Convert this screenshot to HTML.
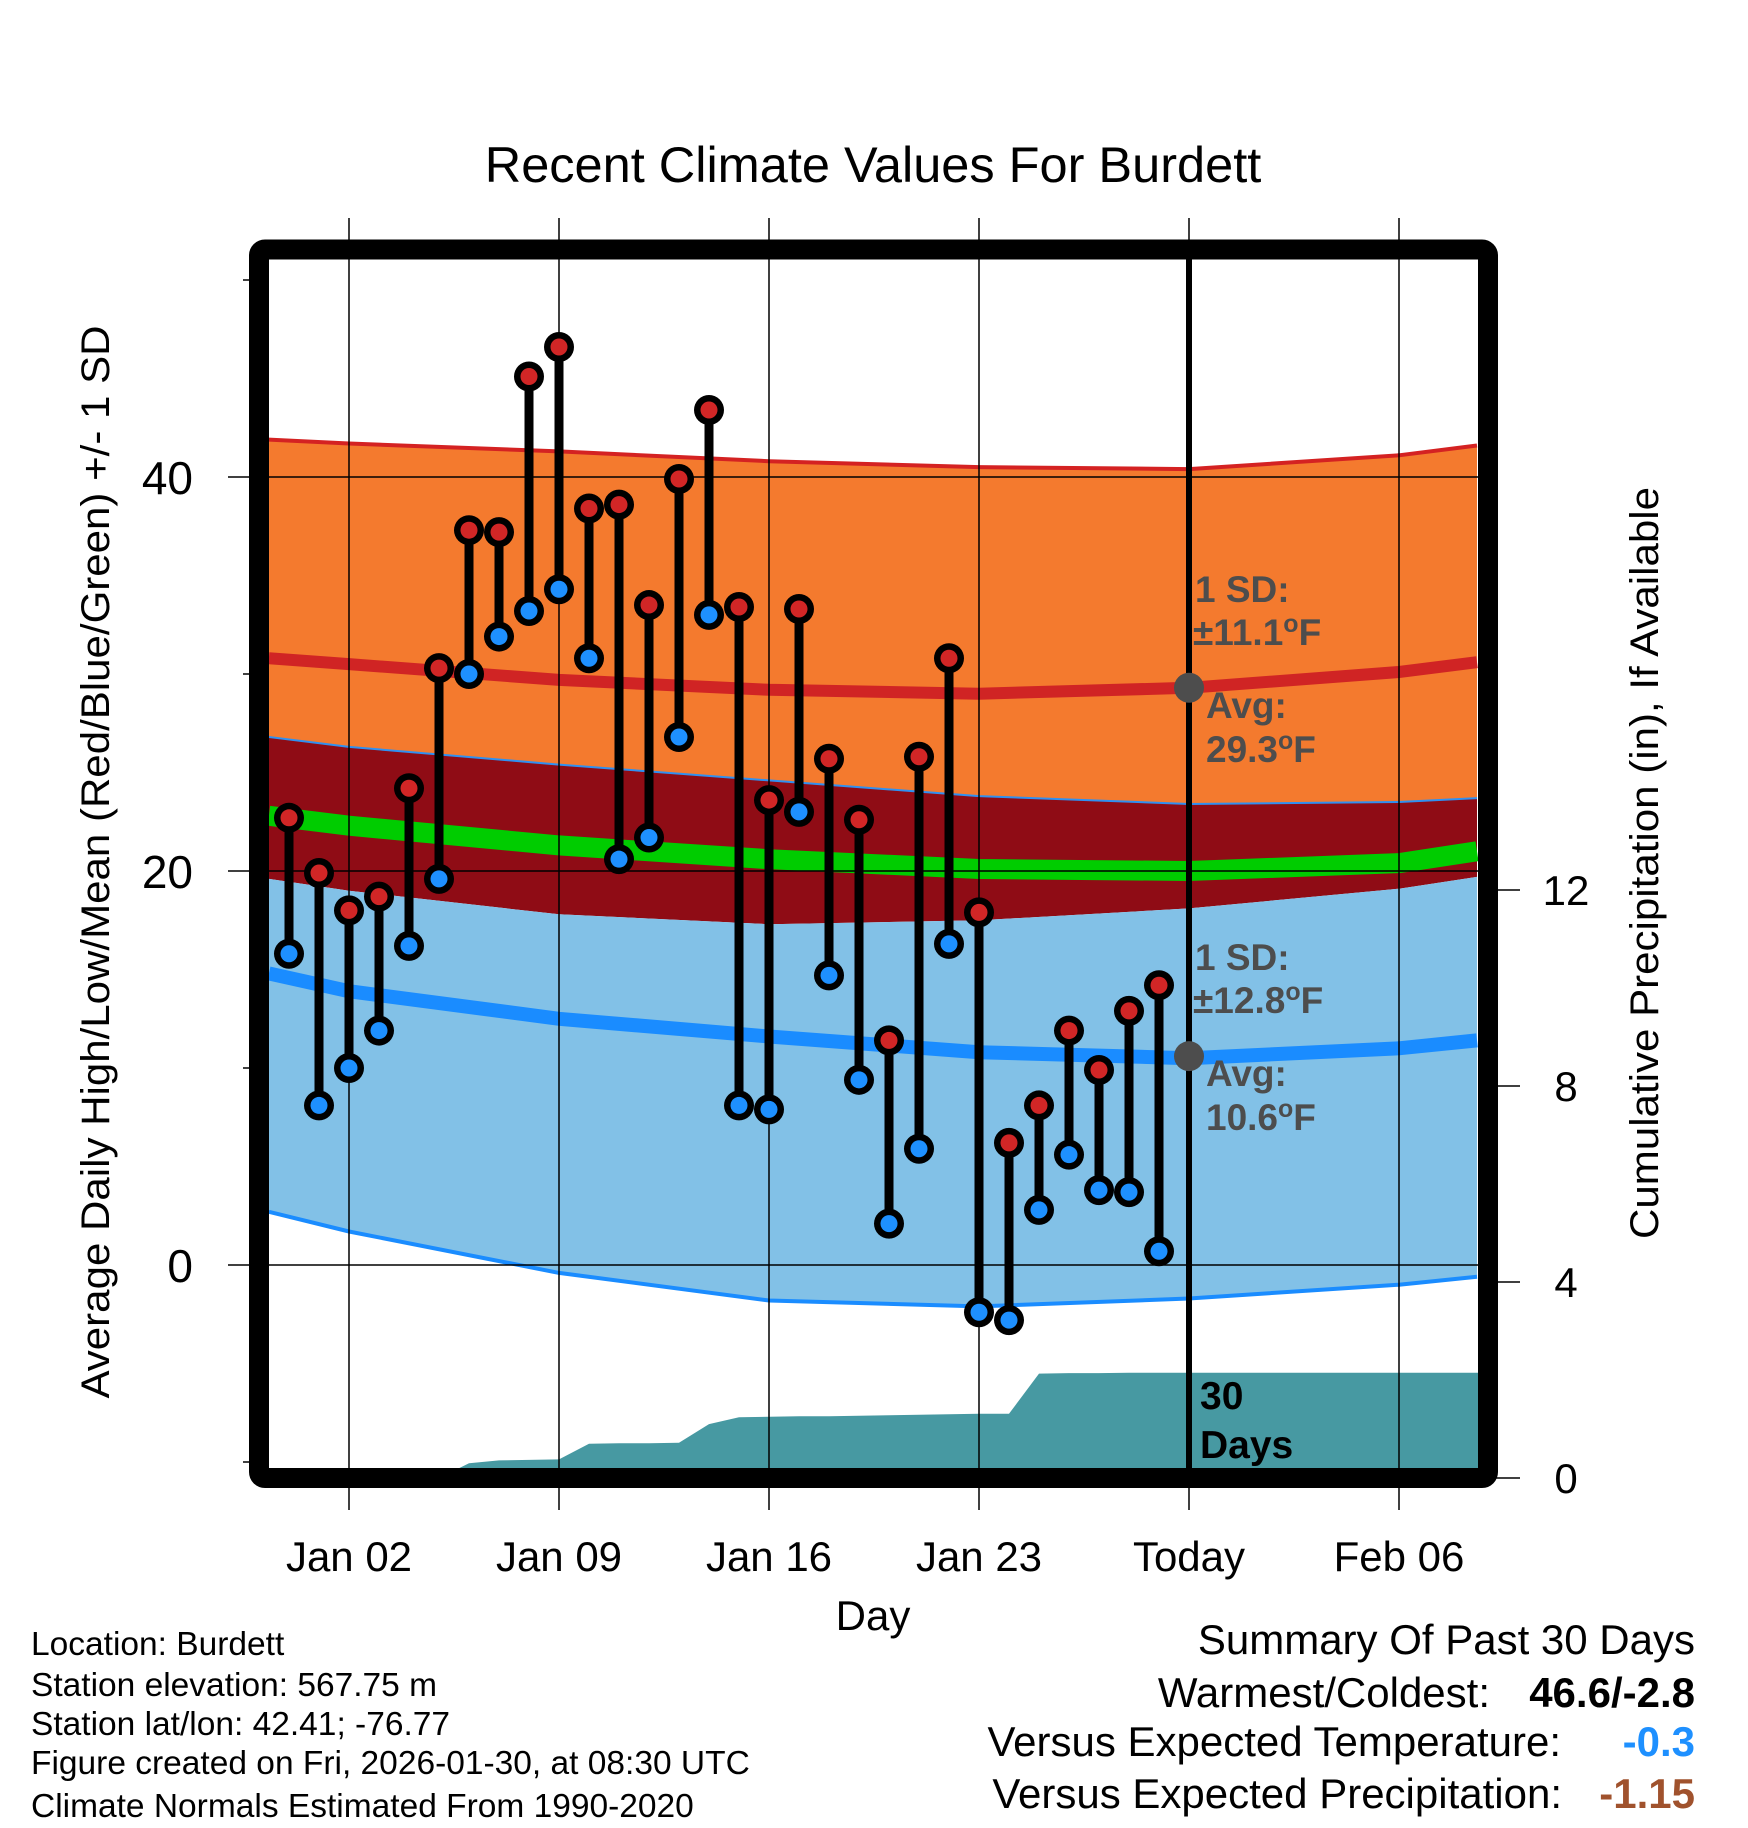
<!DOCTYPE html>
<html><head><meta charset="utf-8"><style>
html,body{margin:0;padding:0;background:#fff;}
svg{display:block;font-family:"Liberation Sans",Arial,sans-serif;}
</style></head><body>
<svg id="chart" width="1748" height="1828" viewBox="0 0 1748 1828" xmlns="http://www.w3.org/2000/svg">
<defs><clipPath id="plotclip"><rect x="269" y="260" width="1209" height="1208"/></clipPath></defs>
<text x="873" y="182" font-size="50.5" text-anchor="middle">Recent Climate Values For Burdett</text>
<g id="plot" clip-path="url(#plotclip)"></g>
<g id="over"></g>
</svg>
<script>
// ---- data ----
const normDays = [-2.67, 0, 7, 14, 21, 28, 35, 37.6];
const highPlusSD = [41.9, 41.7, 41.3, 40.8, 40.5, 40.4, 41.1, 41.6];
const highNormal = [30.8, 30.5, 29.7, 29.2, 29.0, 29.3, 30.1, 30.6];
const meanPlusSD = [26.8, 26.3, 25.4, 24.6, 23.8, 23.4, 23.5, 23.7];
const meanNormal = [22.8, 22.3, 21.3, 20.6, 20.1, 20.0, 20.4, 21.0];
const meanMinusSD = [19.6, 19.0, 17.8, 17.3, 17.5, 18.1, 19.1, 19.7];
const lowNormal = [14.8, 13.9, 12.5, 11.6, 10.8, 10.5, 11.0, 11.4];
const lowMinusSD = [2.7, 1.7, -0.4, -1.8, -2.1, -1.7, -1.0, -0.6];
const obsDays = [-2,-1,0,1,2,3,4,5,6,7,8,9,10,11,12,13,14,15,16,17,18,19,20,21,22,23,24,25,26,27];
const highs = [22.7,19.9,18.0,18.7,24.2,30.3,37.3,37.2,45.1,46.6,38.4,38.6,33.5,39.9,43.4,33.4,23.6,33.3,25.7,22.6,11.4,25.8,30.8,17.9,6.2,8.1,11.9,9.9,12.9,14.2];
const lows = [15.8,8.1,10.0,11.9,16.2,19.6,30.0,31.9,33.2,34.3,30.8,20.6,21.7,26.8,33.0,8.1,7.9,23.0,14.7,9.4,2.1,5.9,16.3,-2.4,-2.8,2.8,5.6,3.8,3.7,0.7];
const precip = [0,0,0,0,0,0,0.30,0.36,0.37,0.38,0.70,0.71,0.71,0.72,1.10,1.24,1.25,1.26,1.26,1.27,1.28,1.29,1.30,1.31,1.31,2.13,2.14,2.14,2.15,2.15];
const xTickDays = [0, 7, 14, 21, 28, 35];
const xTickLabels = ["Jan 02", "Jan 09", "Jan 16", "Jan 23", "Today", "Feb 06"];
const yTicks = [0, 20, 40];
const yMinor = [-10, 10, 30, 50];
const pTicks = [0, 4, 8, 12];
const todayHigh = 29.3, todayLow = 10.6;

// ---- axes ----
const X = d => 349 + 30 * d;
const Y = v => 1265 - 19.7 * v;
const P = p => 1478 - 49 * p;
const NS = "http://www.w3.org/2000/svg";
const plot = document.getElementById('plot');
const over = document.getElementById('over');
function mk(tag, attrs, parent) {
  const e = document.createElementNS(NS, tag);
  for (const k in attrs) e.setAttribute(k, attrs[k]);
  parent.appendChild(e);
  return e;
}
function line(arr) { return arr.map((v, i) => X(normDays[i]).toFixed(1) + ',' + Y(v).toFixed(1)); }
function band(top, bot) { return 'M' + line(top).join(' L') + ' L' + line(bot).reverse().join(' L') + ' Z'; }

let e;
e = mk('path', {d: band(highPlusSD, meanPlusSD), fill: '#F47A2E'}, plot);
 
e = mk('path', {d: band(meanPlusSD, meanMinusSD), fill: '#8F0C15'}, plot);
 
e = mk('path', {d: band(meanMinusSD, lowMinusSD), fill: '#82C1E7'}, plot);
 
e = mk('polyline', {points: line(highPlusSD).join(' '), fill: 'none', stroke: '#D42222', 'stroke-width': 4}, plot);
 
e = mk('polyline', {points: line(meanPlusSD).join(' '), fill: 'none', stroke: '#3090F0', 'stroke-width': 2}, plot);
 
e = mk('polyline', {points: line(lowMinusSD).join(' '), fill: 'none', stroke: '#1A8CFF', 'stroke-width': 4}, plot);
 
e = mk('polyline', {points: line(highNormal).join(' '), fill: 'none', stroke: '#D02424', 'stroke-width': 12}, plot);
 
e = mk('polyline', {points: line(meanNormal).join(' '), fill: 'none', stroke: '#00CC00', 'stroke-width': 20}, plot);
 
e = mk('polyline', {points: line(lowNormal).join(' '), fill: 'none', stroke: '#1A8CFF', 'stroke-width': 14}, plot);
 

// precip area
let pd = 'M' + X(obsDays[0]) + ',' + P(0);
precip.forEach((p, i) => { pd += ' L' + X(obsDays[i]).toFixed(1) + ',' + P(p).toFixed(1); });
pd += ' L1480,' + P(precip[precip.length - 1]).toFixed(1) + ' L1480,' + P(0) + ' Z';
e = mk('path', {d: pd, fill: '#4799A2'}, plot);
 

// grid lines
xTickDays.forEach((d, i) => {
  const g = mk('line', {x1: X(d), x2: X(d), y1: 218, y2: 1510, stroke: '#000', 'stroke-width': 1.5}, over);
  
  
  const t = mk('text', {x: X(d), y: 1571, 'font-size': 42, 'text-anchor': 'middle'}, over);
  t.textContent = xTickLabels[i];
  
  
});
yTicks.forEach(v => {
  const g = mk('line', {x1: 228, x2: 1478, y1: Y(v), y2: Y(v), stroke: '#000', 'stroke-width': 1.5}, over);
  
  
  const t = mk('text', {x: 193, y: Y(v) + 17, 'font-size': 46, 'text-anchor': 'end'}, over);
  t.textContent = v;
  
  
});
yMinor.forEach(v => {
  const g = mk('line', {x1: 243, x2: 259, y1: Y(v), y2: Y(v), stroke: '#000', 'stroke-width': 1.5}, over);
  
  
});
pTicks.forEach(p => {
  const g = mk('line', {x1: 1488, x2: 1520, y1: P(p), y2: P(p), stroke: '#000', 'stroke-width': 1.5}, over);
  
  
  const t = mk('text', {x: 1566, y: P(p) + 15, 'font-size': 42, 'text-anchor': 'middle'}, over);
  t.textContent = p;
  
  
});
// today thick line
e = mk('line', {x1: X(28), x2: X(28), y1: 255, y2: 1475, stroke: '#000', 'stroke-width': 6}, over);
 

// observations
obsDays.forEach((d, i) => {
  const s = mk('line', {x1: X(d), x2: X(d), y1: Y(highs[i]), y2: Y(lows[i]), stroke: '#000', 'stroke-width': 9}, over);
  
  
  [[highs[i], '#D12626', 'high-marker'], [lows[i], '#1E90FF', 'low-marker']].forEach(m => {
    const c = mk('circle', {cx: X(d), cy: Y(m[0]), r: 15, fill: '#000'}, over);
    
    
    const c2 = mk('circle', {cx: X(d), cy: Y(m[0]), r: 8.5, fill: m[1]}, over);
    
    
  });
});

// today avg dots and annotations
[[todayHigh, '11.1', 'high'], [todayLow, '12.8', 'low']].forEach(a => {
  const cy = Y(a[0]);
  const c = mk('circle', {cx: X(28), cy: cy, r: 15, fill: '#4D4D4D'}, over);
  
  
  const rows = [['1 SD:', 1195, cy - 86], ['\u00B1' + a[1], 1193, cy - 43], ['Avg:', 1206, cy + 30], [a[0].toFixed(1), 1206, cy + 74]];
  rows.forEach((r, k) => {
    const t = mk('text', {x: r[1], y: r[2], 'font-size': 37, 'font-weight': 'bold', fill: '#4D4D4D'}, over);
    t.textContent = r[0];
    if (k % 2 === 1) {
      const sp = mk('tspan', {'font-size': 25, dy: -13}, t);
      sp.textContent = 'o';
      const sp2 = mk('tspan', {dy: 13}, t);
      sp2.textContent = 'F';
    }
    
    
  });
});
</script>
<svg style="position:absolute;left:0;top:0" width="1748" height="1828" xmlns="http://www.w3.org/2000/svg">
<rect x="259" y="249.5" width="1229" height="1228.5" rx="6" fill="none" stroke="#000" stroke-width="20"/>
<text x="1200" y="1409" font-family="Liberation Sans, sans-serif" font-size="39" font-weight="bold">30</text>
<text x="1200" y="1458" font-family="Liberation Sans, sans-serif" font-size="39" font-weight="bold">Days</text>
<text x="873" y="1630" font-family="Liberation Sans, sans-serif" font-size="42" text-anchor="middle">Day</text>
<text transform="translate(109,862) rotate(-90)" font-family="Liberation Sans, sans-serif" font-size="40" text-anchor="middle" textLength="1073" lengthAdjust="spacingAndGlyphs">Average Daily High/Low/Mean (Red/Blue/Green) +/- 1 SD</text>
<text transform="translate(1658,863) rotate(-90)" font-family="Liberation Sans, sans-serif" font-size="40" text-anchor="middle" textLength="752" lengthAdjust="spacingAndGlyphs">Cumulative Precipitation (in), If Available</text>
<g font-family="Liberation Sans, sans-serif" font-size="33.5">
<text x="31" y="1655">Location: Burdett</text>
<text x="31" y="1696">Station elevation: 567.75 m</text>
<text x="31" y="1735">Station lat/lon: 42.41; -76.77</text>
<text x="31" y="1774">Figure created on Fri, 2026-01-30, at 08:30 UTC</text>
<text x="31" y="1817">Climate Normals Estimated From 1990-2020</text>
</g>
<g font-family="Liberation Sans, sans-serif" font-size="42">
<text x="1695" y="1654" text-anchor="end">Summary Of Past 30 Days</text>
<text x="1490" y="1707" text-anchor="end">Warmest/Coldest:</text>
<text x="1695" y="1707" text-anchor="end" font-weight="bold">46.6/-2.8</text>
<text x="1561" y="1756" text-anchor="end">Versus Expected Temperature:</text>
<text x="1695" y="1756" text-anchor="end" font-weight="bold" fill="#1E90FF">-0.3</text>
<text x="1562" y="1808" text-anchor="end">Versus Expected Precipitation:</text>
<text x="1695" y="1808" text-anchor="end" font-weight="bold" fill="#A0522D">-1.15</text>
</g>
</svg>
</body></html>
